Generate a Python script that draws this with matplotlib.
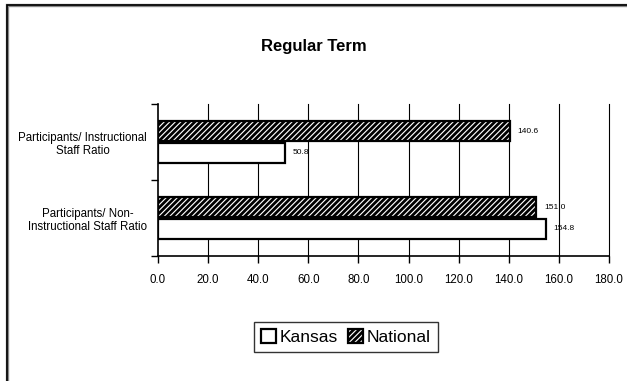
import matplotlib

matplotlib.use("Agg")

import matplotlib.patches as mpatches
import matplotlib.pyplot as plt
import numpy as np

plt.rcParams["font.family"] = ["Liberation Sans", "DejaVu Sans"]
plt.rcParams["hatch.linewidth"] = 2.0

categories = ["Participants/ Non-\nInstructional Staff Ratio", "Participants/ Instructional\nStaff Ratio"]
kansas = [154.8, 50.8]
national = [151.0, 140.6]
x_ticks = [0, 20, 40, 60, 80, 100, 120, 140, 160, 180]

fig = plt.figure(figsize=(6.27, 3.81), dpi=100, facecolor="white")

# outer chart border (cut off at right and bottom like the source)
W, H = 627.0, 381.0
fig.patches.append(
    mpatches.Rectangle((7 / W, -0.1), 1.2, 1.1 - 5 / H, transform=fig.transFigure,
                       fc="none", ec="#888888", lw=2.4, zorder=0)
)
fig.patches.append(
    mpatches.Rectangle((6.5 / W, -0.1), 1.2, 1.1 - 4.5 / H, transform=fig.transFigure,
                       fc="none", ec="black", lw=1.2, zorder=1)
)

fig.text(0.5, 1 - 46 / H, "Regular Term", ha="center", va="center", fontsize=12, fontweight="bold")

ax = fig.add_axes([158 / W, 1 - 256 / H, 451 / W, 152 / H])
y = np.arange(len(categories))
h = 0.265
off = 0.14
kb = ax.barh(y - off, kansas, height=h, color="white", edgecolor="black", lw=1.6, zorder=3)
nb = ax.barh(y + off, national, height=h, color="white", edgecolor="black", lw=1.6, hatch="//////", zorder=3)

for bars, vals in [(kb, kansas), (nb, national)]:
    for b, v in zip(bars, vals):
        ax.text(v + 3, b.get_y() + b.get_height() / 2, f"{v:.1f}", fontsize=6, va="center", ha="left", zorder=4)

ax.set_xlim(0, 180)
ax.set_ylim(-0.5, 1.5)
ax.set_xticks(x_ticks)
ax.set_xticklabels([f"{t:.1f}" for t in x_ticks], fontsize=8.3)
ax.set_yticks([-0.5, 0.5, 1.5])
ax.set_yticklabels([])
ax.set_yticks(y, minor=True)
ax.set_yticklabels(categories, minor=True, fontsize=8.3, multialignment="center")
ax.tick_params(axis="y", which="minor", length=0, pad=8)
ax.tick_params(axis="y", which="major", length=5, width=1, direction="out")
ax.tick_params(axis="x", length=5, width=1, direction="out", pad=8)
for t in x_ticks[1:]:
    ax.axvline(t, color="black", lw=0.8, zorder=0, clip_on=False)
ax.spines["top"].set_visible(False)
ax.spines["right"].set_visible(False)
ax.spines["left"].set_linewidth(1.2)
ax.spines["bottom"].set_linewidth(1.2)

handles = [
    mpatches.Patch(fc="white", ec="black", lw=1.6, label="Kansas"),
    mpatches.Patch(fc="white", ec="black", lw=1.6, hatch="//////", label="National"),
]
leg = fig.legend(handles=handles, loc="center", bbox_to_anchor=(346 / W, 1 - 337 / H), ncol=2,
                 fontsize=12.5, frameon=True, fancybox=False, edgecolor="black",
                 handlelength=0.85, handleheight=0.85, handletextpad=0.2, columnspacing=0.6,
                 borderpad=0.4)
leg.get_frame().set_linewidth(1.0)

fig.savefig("out.png", dpi=100, facecolor="white")
